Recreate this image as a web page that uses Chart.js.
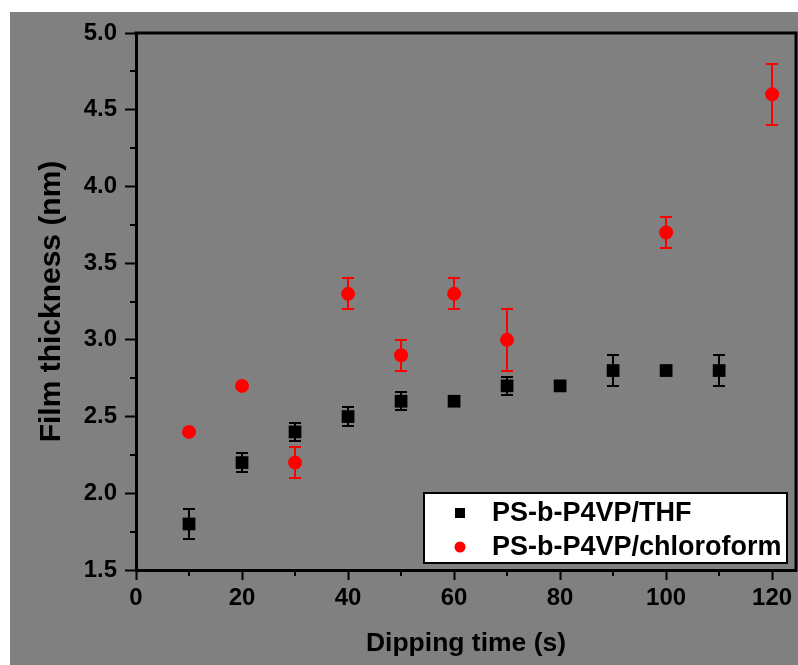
<!DOCTYPE html>
<html>
<head>
<meta charset="utf-8">
<script src="https://cdn.jsdelivr.net/npm/chart.js@4/dist/chart.umd.min.js"></script>
<style>
  html, body { margin: 0; padding: 0; background: #ffffff; }
  #wrap { position: absolute; left: 10px; top: 12px; width: 788px; height: 653px; background: #808080; }
  canvas { display: block; }
</style>
</head>
<body>
<div id="wrap"><canvas id="chart" width="788" height="653"></canvas></div>
<script>
// Film thickness vs. dipping time for two casting solvents
const thfTimes      = [10, 20, 30, 40, 50, 60, 70, 80, 90, 100, 110];
const thfThickness  = [1.8, 2.2, 2.4, 2.5, 2.6, 2.6, 2.7, 2.7, 2.8, 2.8, 2.8];
const thfError      = [0.1, 0.06, 0.06, 0.06, 0.06, 0, 0.06, 0, 0.1, 0, 0.1];

const chlTimes      = [10, 20, 30, 40, 50, 60, 70, 100, 120];
const chlThickness  = [2.4, 2.7, 2.2, 3.3, 2.9, 3.3, 3.0, 3.7, 4.6];
const chlError      = [0, 0, 0.1, 0.1, 0.1, 0.1, 0.2, 0.1, 0.2];

const xTicks      = [0, 20, 40, 60, 80, 100, 120];
const xMinorTicks = [10, 30, 50, 70, 90, 110];
const yTicks      = [1.5, 2.0, 2.5, 3.0, 3.5, 4.0, 4.5, 5.0];
const yMinorTicks = [1.75, 2.25, 2.75, 3.25, 3.75, 4.25, 4.75];

const seriesLabels = ['PS-b-P4VP/THF', 'PS-b-P4VP/chloroform'];

const FONT = "'Liberation Sans', Arial, sans-serif";

function points(xs, ys, es) {
  return xs.map((x, i) => ({ x: x, y: ys[i], err: es[i] }));
}

// vertical error bars with caps, drawn beneath the markers
const errorBars = {
  id: 'errorBars',
  beforeDatasetsDraw(chart) {
    const ctx = chart.ctx;
    const xs = chart.scales.x, ys = chart.scales.y;
    chart.data.datasets.forEach(ds => {
      ctx.save();
      ctx.strokeStyle = ds.borderColor;
      ctx.lineWidth = 2;
      ds.data.forEach(p => {
        if (!p.err) return;
        const px = Math.round(xs.getPixelForValue(p.x));
        const top = Math.round(ys.getPixelForValue(p.y + p.err));
        const bot = Math.round(ys.getPixelForValue(p.y - p.err));
        const cap = 6;
        ctx.beginPath();
        ctx.moveTo(px, top); ctx.lineTo(px, bot);
        ctx.moveTo(px - cap, top); ctx.lineTo(px + cap, top);
        ctx.moveTo(px - cap, bot); ctx.lineTo(px + cap, bot);
        ctx.stroke();
      });
      ctx.restore();
    });
  }
};

// closed frame, minor ticks and the in-plot legend
const frameAndLegend = {
  id: 'frameAndLegend',
  afterDraw(chart) {
    const ctx = chart.ctx;
    const a = chart.chartArea;
    const xs = chart.scales.x, ys = chart.scales.y;
    ctx.save();
    ctx.strokeStyle = '#000';
    ctx.lineWidth = 3;
    ctx.beginPath();
    ctx.moveTo(a.left - 1.5, a.top);
    ctx.lineTo(a.right, a.top);
    ctx.lineTo(a.right, a.bottom + 1.5);
    ctx.stroke();

    ctx.lineWidth = 2;
    ctx.beginPath();
    xMinorTicks.forEach(v => {
      const px = Math.round(xs.getPixelForValue(v));
      ctx.moveTo(px, a.bottom); ctx.lineTo(px, a.bottom + 6);
    });
    yMinorTicks.forEach(v => {
      const py = Math.round(ys.getPixelForValue(v));
      ctx.moveTo(a.left, py); ctx.lineTo(a.left - 6, py);
    });
    ctx.stroke();

    // legend box
    const w = 363, h = 70;
    const left = a.right - 9 - w, top = a.bottom - 7 - h;
    ctx.fillStyle = '#fff';
    ctx.fillRect(left, top, w, h);
    ctx.lineWidth = 2;
    ctx.strokeRect(left, top, w, h);

    ctx.font = 'bold 27px ' + FONT;
    ctx.textBaseline = 'middle';
    ctx.textAlign = 'left';
    chart.data.datasets.forEach((ds, i) => {
      const cy = top + 20 + i * 34;
      const cx = left + 36;
      ctx.fillStyle = ds.backgroundColor;
      if (ds.pointStyle === 'rect') {
        ctx.fillRect(cx - 5, cy - 5, 10, 10);
      } else {
        ctx.beginPath();
        ctx.arc(cx, cy, 5.5, 0, Math.PI * 2);
        ctx.fill();
      }
      ctx.fillStyle = '#000';
      ctx.fillText(ds.label, left + 68, cy + 1);
    });
    ctx.restore();
  }
};

new Chart(document.getElementById('chart'), {
  type: 'scatter',
  data: {
    datasets: [
      {
        label: seriesLabels[0],
        data: points(thfTimes, thfThickness, thfError),
        pointStyle: 'rect',
        pointRadius: 9,
        backgroundColor: '#000000',
        borderColor: '#000000',
        borderWidth: 0
      },
      {
        label: seriesLabels[1],
        data: points(chlTimes, chlThickness, chlError),
        pointStyle: 'circle',
        pointRadius: 7,
        backgroundColor: '#ff0000',
        borderColor: '#ff0000',
        borderWidth: 0
      }
    ]
  },
  options: {
    responsive: false,
    animation: false,
    events: [],
    layout: { autoPadding: false, padding: { left: 24, top: 21, right: 2, bottom: 0 } },
    plugins: { legend: { display: false }, tooltip: { enabled: false } },
    scales: {
      x: {
        type: 'linear',
        min: 0,
        max: 124.5,
        afterBuildTicks: s => { s.ticks = xTicks.map(v => ({ value: v })); },
        afterFit: s => { s.height = 95; s.paddingLeft = 0; s.paddingRight = 0; },
        grid: { drawOnChartArea: false, drawTicks: true, tickLength: 10, tickWidth: 2, color: '#000' },
        border: { color: '#000', width: 3 },
        ticks: {
          color: '#000',
          font: { family: FONT, weight: 'bold', size: 24 },
          padding: 4,
          maxRotation: 0,
          autoSkip: false,
          callback: v => String(v)
        },
        title: {
          display: true,
          text: 'Dipping time (s)',
          color: '#000',
          font: { family: FONT, weight: 'bold', size: 26.5 },
          padding: { top: 0, bottom: 5 }
        }
      },
      y: {
        type: 'linear',
        min: 1.5,
        max: 5.0,
        afterBuildTicks: s => { s.ticks = yTicks.map(v => ({ value: v })); },
        afterFit: s => { s.width = 102; s.paddingTop = 0; s.paddingBottom = 0; },
        grid: { drawOnChartArea: false, drawTicks: true, tickLength: 11, tickWidth: 2, color: '#000' },
        border: { color: '#000', width: 3 },
        ticks: {
          color: '#000',
          font: { family: FONT, weight: 'bold', size: 24 },
          padding: 8,
          autoSkip: false,
          callback: v => Number(v).toFixed(1)
        },
        title: {
          display: true,
          text: 'Film thickness (nm)',
          color: '#000',
          font: { family: FONT, weight: 'bold', size: 30 },
          padding: { top: 0, bottom: 0 }
        }
      }
    }
  },
  plugins: [errorBars, frameAndLegend]
});
</script>
</body>
</html>
